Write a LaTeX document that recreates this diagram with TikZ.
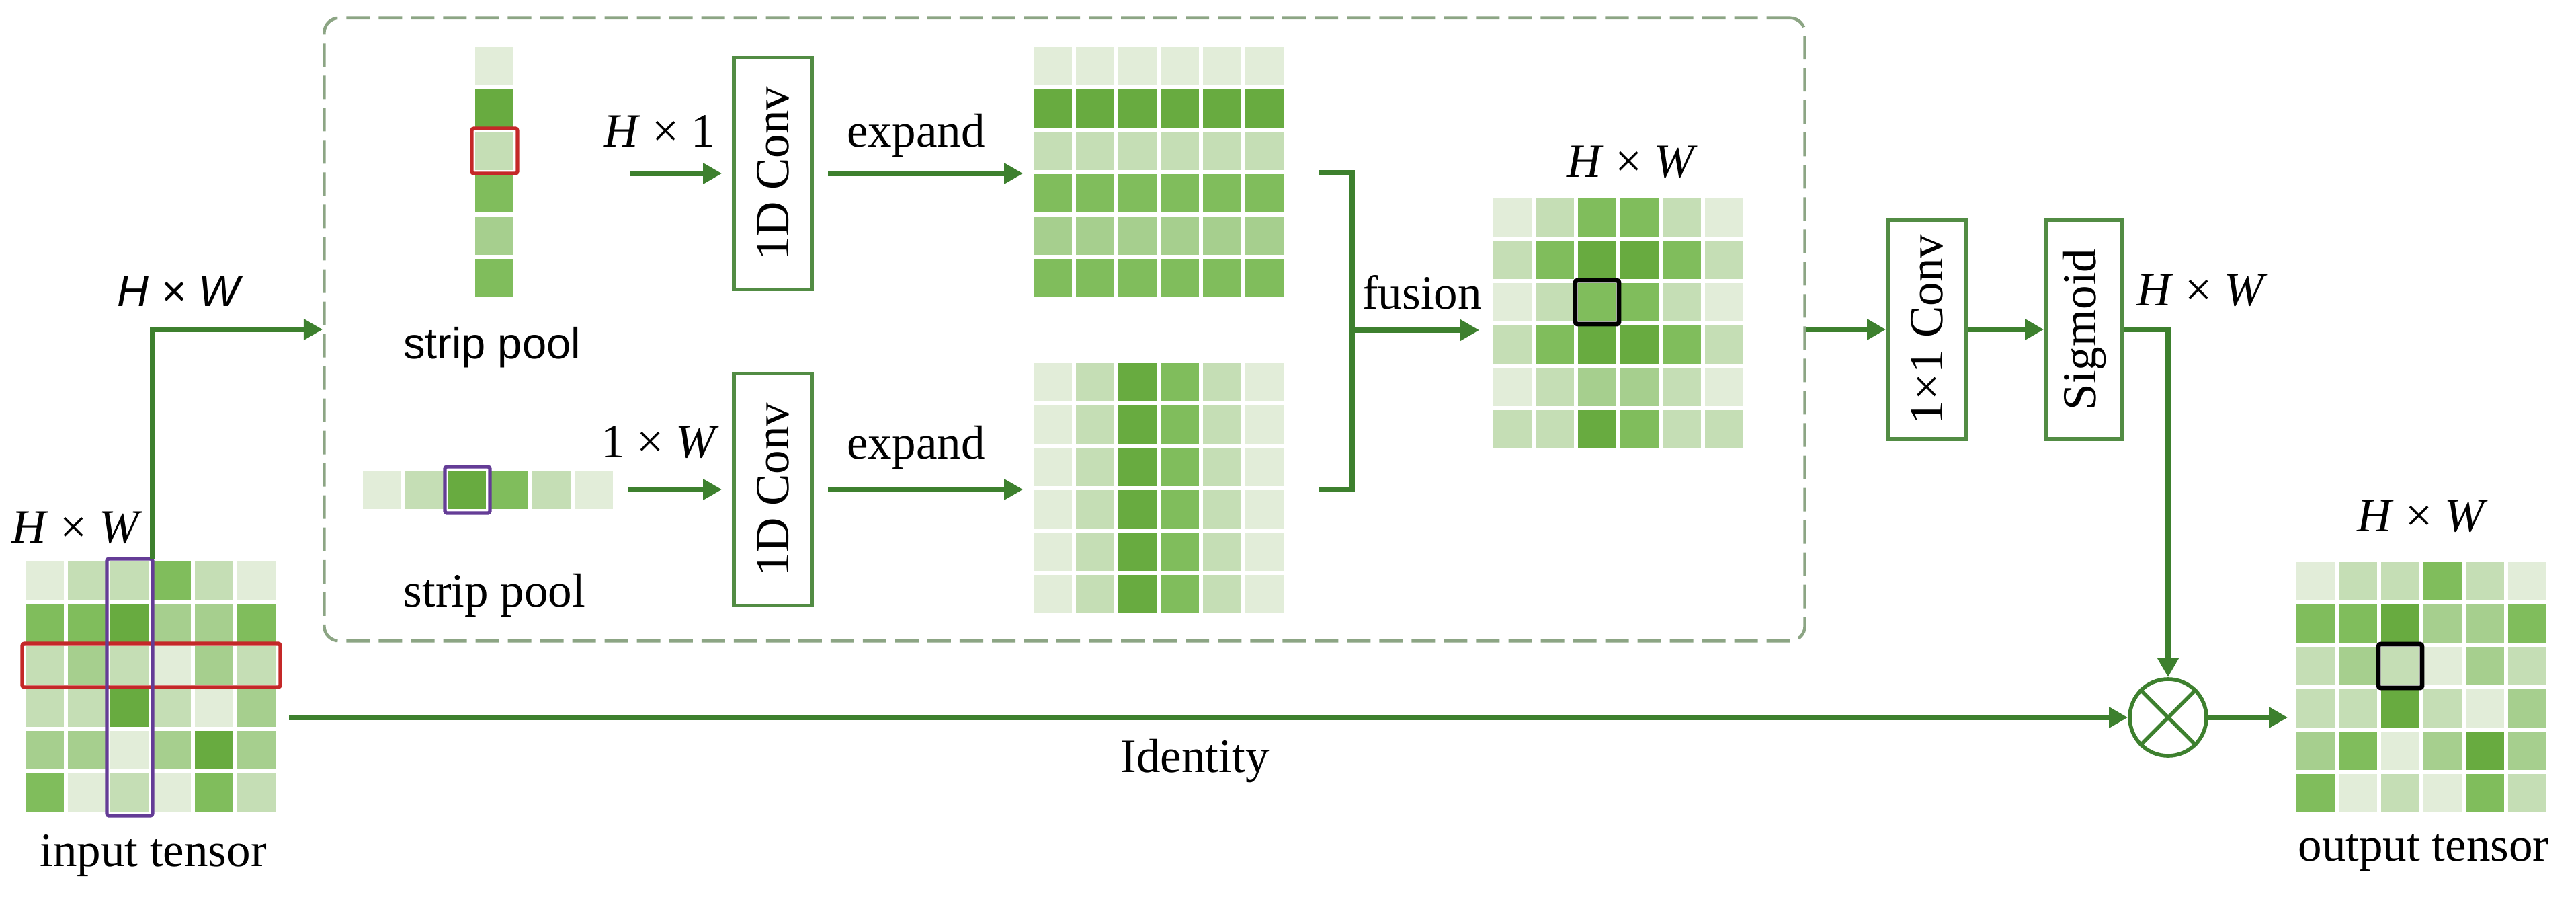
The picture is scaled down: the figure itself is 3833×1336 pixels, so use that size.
\documentclass[tikz,border=0pt]{standalone}
\usepackage{fontspec}
\usepackage{graphicx}
\setmainfont{Liberation Serif}
\newfontfamily\sansf{Liberation Sans}
\usetikzlibrary{arrows.meta}
\definecolor{lv1}{RGB}{226,237,217}
\definecolor{lv2}{RGB}{197,222,181}
\definecolor{lv3}{RGB}{166,207,142}
\definecolor{lv4}{RGB}{128,189,92}
\definecolor{lv5}{RGB}{104,171,64}
\definecolor{lineG}{RGB}{61,128,46}
\definecolor{boxG}{RGB}{82,140,68}
\definecolor{dashG}{RGB}{140,165,132}
\definecolor{redR}{RGB}{196,40,40}
\definecolor{purP}{RGB}{100,60,150}
\newcommand\cellgrid[3]{%
  \foreach \rw [count=\ri from 0] in {#3}{%
    \foreach \lv [count=\ci from 0] in \rw{%
      \fill[fill=lv\lv] ({#1+\ci*63},{#2+\ri*63}) rectangle ++(57,57);}}}
\tikzset{
  flow/.style={draw=lineG, line width=2.2pt, -{Triangle[length=8pt,width=8.5pt]}},
  plain/.style={draw=lineG, line width=2.2pt},
  opbox/.style={draw=boxG, line width=1.6pt, fill=white, inner sep=0pt},
  lbl/.style={inner sep=0pt},
  sanslbl/.style={inner sep=0pt, font=\sansf\fontsize{18.5}{22}\selectfont},
  gridbox/.style={inner sep=0pt, minimum width=3.72cm, minimum height=3.72cm},
  hl/.style={line width=1.5pt, rounded corners=0.03cm},
}
\begin{document}
\begin{tikzpicture}[x=0.01cm, y=-0.01cm, font=\fontsize{20.2}{24}\selectfont]
\useasboundingbox (0,0) rectangle (3833,1336);

% dashed module frame
\node[draw=dashG, line width=1.3pt, dash pattern=on 0.35cm off 0.13cm,
      rounded corners=0.22cm, inner sep=0pt,
      minimum width=22.02cm, minimum height=9.26cm] (dbox) at (1584,490) {};

% ---------- input tensor ----------
\cellgrid{38}{835}{{1,2,2,4,2,1},{4,4,5,3,3,4},{2,3,2,1,3,2},{2,2,5,2,1,3},{3,3,1,3,5,3},{4,1,2,1,4,2}}
\node[gridbox] (gIn) at (224,1021) {};
\draw[redR, hl] (33,957) rectangle (417,1022);
\draw[purP, hl] (159,831) rectangle (227,1213);
\coordinate (pin) at (227,831);
\node[lbl] (hwIn) at (115,785) {\textit{H} × \textit{W}};
\node[lbl, anchor=base] (tIn) at (228,1288) {input tensor};

% ---------- strip pools ----------
\cellgrid{707}{70}{{1},{5},{2},{4},{3},{4}}
\draw[redR, hl] (702,191) rectangle (770,258);
\node[sanslbl, anchor=base] (sp1) at (732,533) {strip pool};
\cellgrid{540}{700}{{1,2,5,4,2,1}}
\draw[purP, hl] (662,694) rectangle (729,763);
\node[lbl, anchor=base] (sp2) at (736,902) {strip pool};

% ---------- 1D convs ----------
\node[opbox, minimum width=1.16cm, minimum height=3.45cm] (conv1) at (1150,258) {\rotatebox{90}{1D Conv}};
\node[opbox, minimum width=1.16cm, minimum height=3.45cm] (conv2) at (1150,728) {\rotatebox{90}{1D Conv}};
\coordinate (a1s) at (938,258);
\coordinate (a2s) at (934,728);
\node[lbl] (lH1) at (981,195) {\textit{H} × 1};
\node[lbl] (l1W) at (982,658) {1 × \textit{W}};

% ---------- expanded maps ----------
\cellgrid{1538}{70}{{1,1,1,1,1,1},{5,5,5,5,5,5},{2,2,2,2,2,2},{4,4,4,4,4,4},{3,3,3,3,3,3},{4,4,4,4,4,4}}
\node[gridbox] (gTop) at (1724,256) {};
\cellgrid{1538}{540}{{1,2,5,4,2,1},{1,2,5,4,2,1},{1,2,5,4,2,1},{1,2,5,4,2,1},{1,2,5,4,2,1},{1,2,5,4,2,1}}
\node[gridbox] (gBot) at (1724,726) {};
\node[lbl, anchor=base] (ex1) at (1363,218) {expand};
\node[lbl, anchor=base] (ex2) at (1363,682) {expand};

% ---------- fusion ----------
\coordinate (bkT) at (1963,257);
\coordinate (bkTR) at (2012,257);
\coordinate (bkBR) at (2012,728);
\coordinate (bkB) at (1963,728);
\coordinate (bkM) at (2012,491);
\node[lbl, anchor=base] (lfu) at (2116,459) {fusion};
\cellgrid{2222}{295}{{1,2,4,4,2,1},{2,4,5,5,4,2},{1,2,4,4,2,1},{2,4,5,5,4,2},{1,2,3,3,2,1},{2,2,5,4,2,2}}
\node[gridbox] (gFus) at (2408,481) {};
\draw[black, line width=1.9pt, rounded corners=0.03cm] (2344,417) rectangle (2409,482);
\node[lbl] (hwFus) at (2429,241) {\textit{H} × \textit{W}};

% ---------- 1x1 conv, sigmoid ----------
\node[opbox, minimum width=1.16cm, minimum height=3.26cm] (c11) at (2867,490) {\rotatebox{90}{1×1 Conv}};
\node[opbox, minimum width=1.14cm, minimum height=3.26cm] (sig) at (3101,490) {\rotatebox{90}{Sigmoid}};
\node[lbl] (hwSig) at (3277,432) {\textit{H} × \textit{W}};

% ---------- product and output ----------
\node[circle, draw=lineG, line width=1.6pt, minimum size=1.14cm, inner sep=0pt] (ot) at (3226,1067) {};
\draw[lineG, line width=1.6pt] (ot.north west) -- (ot.south east) (ot.north east) -- (ot.south west);
\cellgrid{3417}{836}{{1,2,2,4,2,1},{4,4,5,3,3,4},{2,3,2,1,3,2},{2,2,5,2,1,3},{3,4,1,3,5,3},{4,1,2,1,4,2}}
\node[gridbox] (gOut) at (3603,1022) {};
\draw[black, line width=1.9pt, rounded corners=0.03cm] (3539,958) rectangle (3604,1023);
\node[lbl] (hwOut) at (3605,768) {\textit{H} × \textit{W}};
\node[lbl, anchor=base] (tOut) at (3606,1280) {output tensor};
\coordinate (idS) at (430,1067);
\node[lbl, anchor=base] (lid) at (1778,1148) {Identity};

% ---------- connectors ----------
\draw[flow] (pin) |- (dbox.west);
\node[sanslbl] (hwTop) at (266,433) {\itshape H × W};
\draw[flow, shorten >=0.15cm] (a1s) -- (conv1.west);
\draw[flow, shorten >=0.15cm] (a2s) -- (conv2.west);
\draw[flow, shorten <=0.21cm, shorten >=0.15cm] (conv1.east) -- (conv1.east -| gTop.west);
\draw[flow, shorten <=0.21cm, shorten >=0.15cm] (conv2.east) -- (conv2.east -| gBot.west);
\draw[plain] (bkT) -- (bkTR) -- (bkBR) -- (bkB);
\draw[flow, shorten >=0.2cm] (bkM) -- (bkM -| gFus.west);
\draw[flow] (dbox.east) -- (c11.west);
\draw[flow] (c11.east) -- (sig.west);
\draw[flow] (sig.east) -| (ot.north);
\draw[flow] (idS) -- (ot.west);
\draw[flow, shorten >=0.12cm] (ot.east) -- (ot -| gOut.west);
\end{tikzpicture}
\end{document}
